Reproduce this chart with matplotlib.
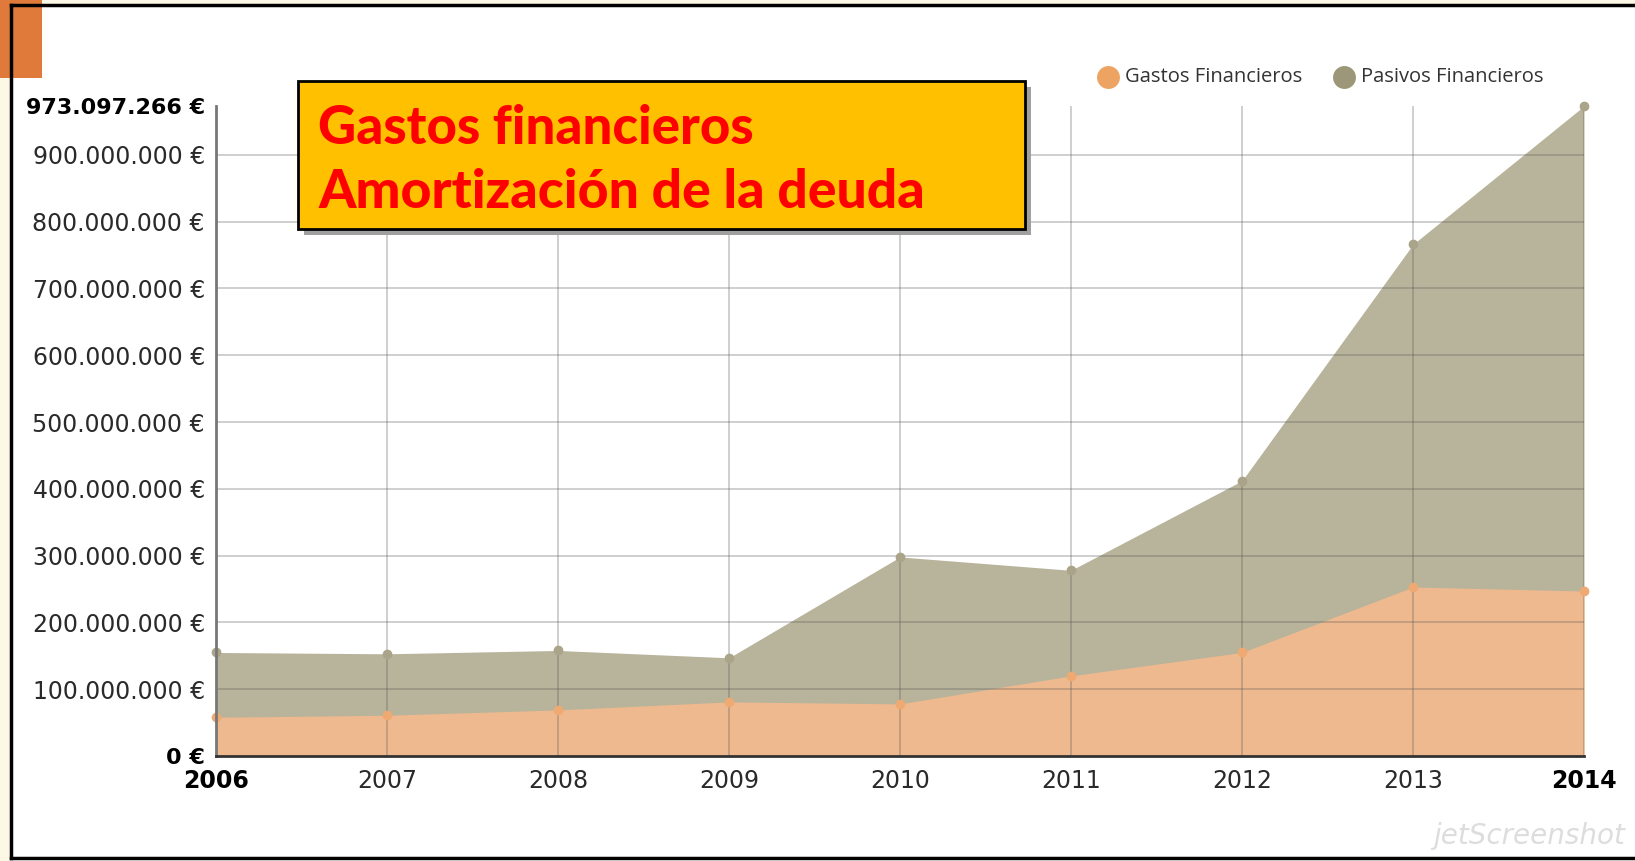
import matplotlib
matplotlib.use("Agg")
import matplotlib.pyplot as plt
from matplotlib.patches import Rectangle
from matplotlib.lines import Line2D

years = [2006, 2007, 2008, 2009, 2010, 2011, 2012, 2013, 2014]
pasivos = [155e6, 153e6, 158e6, 147e6, 298e6, 278e6, 412e6, 766e6, 973097266]
gastos = [58e6, 61e6, 69e6, 81e6, 78e6, 120e6, 155e6, 253e6, 247e6]
ytick_vals = [0, 100e6, 200e6, 300e6, 400e6, 500e6, 600e6, 700e6, 800e6, 900e6, 973097266]
ytick_labels = ["0 €", "100.000.000 €", "200.000.000 €", "300.000.000 €", "400.000.000 €",
                "500.000.000 €", "600.000.000 €", "700.000.000 €", "800.000.000 €",
                "900.000.000 €", "973.097.266 €"]
series_names = ["Gastos Financieros", "Pasivos Financieros"]
title_lines = ["Gastos financieros", "Amortización de la deuda"]

W, H = 1635, 861
fig = plt.figure(figsize=(W / 100, H / 100), dpi=100)
fig.patch.set_facecolor("white")

def fx(px):
    return px / W

def fy(py):
    return 1 - py / H

# outer frame decoration
fig.patches.append(Rectangle((0, fy(6)), 1, 6 / H, transform=fig.transFigure,
                             facecolor="#fdf8e6", edgecolor="none", zorder=0))
fig.patches.append(Rectangle((0, 0), fx(10), 1, transform=fig.transFigure,
                             facecolor="#fdf8e6", edgecolor="none", zorder=0))
fig.patches.append(Rectangle((0, fy(78)), fx(42), 78 / H, transform=fig.transFigure,
                             facecolor="#e07a3a", edgecolor="none", zorder=1))
fig.lines.append(Line2D([fx(11), 1], [fy(5), fy(5)], transform=fig.transFigure,
                        color="black", lw=2.5, zorder=3))
fig.lines.append(Line2D([fx(11), fx(11)], [fy(5), fy(858)], transform=fig.transFigure,
                        color="black", lw=2.5, zorder=3))
fig.lines.append(Line2D([fx(11), 1], [fy(858), fy(858)], transform=fig.transFigure,
                        color="black", lw=2.5, zorder=3))

x0, x1 = 216, 1584
ytop, ybot = 106, 756
ax = fig.add_axes([fx(x0), fy(ybot), fx(x1) - fx(x0), (ybot - ytop) / H])
ax.set_facecolor("white")

ymax = ytick_vals[-1]
ax.set_xlim(years[0], years[-1])
ax.set_ylim(0, ymax)

gray_fill = "#b8b39b"
orange_fill = "#eeb98e"
ax.fill_between(years, 0, pasivos, color=gray_fill, lw=0, zorder=1)
ax.fill_between(years, 0, gastos, color=orange_fill, lw=0, zorder=2)
ax.plot(years, pasivos, "o", color="#aaa58a", ms=6, zorder=4, clip_on=False)
ax.plot(years, gastos, "o", color="#eeaa72", ms=6, zorder=4, clip_on=False)

# gridlines
for v in ytick_vals[1:-1]:
    ax.axhline(v, color="#555555", lw=1.2, alpha=0.33, zorder=3)
for yv in years[1:]:
    ax.axvline(yv, color="#555555", lw=1.2, alpha=0.33, zorder=3)

for s in ["top", "right"]:
    ax.spines[s].set_visible(False)
ax.spines["left"].set_color("#777777")
ax.spines["left"].set_linewidth(2)
ax.spines["bottom"].set_color("#333333")
ax.spines["bottom"].set_linewidth(2)
ax.spines["left"].set_zorder(5)
ax.spines["bottom"].set_zorder(5)

ax.set_yticks(ytick_vals)
ax.set_yticklabels(ytick_labels)
ax.set_xticks(years)
ax.set_xticklabels([str(y) for y in years])
ax.tick_params(axis="both", length=0, labelsize=17, colors="#2a2a2a")
ax.tick_params(axis="y", pad=8)
ax.tick_params(axis="x", pad=9)
for lbl in ax.get_yticklabels() + ax.get_xticklabels():
    lbl.set_family("DejaVu Sans")
    lbl.set_color("#2a2a2a")
for i in (0, -1):
    ylbl = ax.get_yticklabels()[i]
    ylbl.set_fontweight("bold")
    ylbl.set_color("black")
    ylbl.set_fontsize(16)
    xlbl = ax.get_xticklabels()[i]
    xlbl.set_fontweight("bold")
    xlbl.set_color("black")

# legend
for cx, col, name in [(1108, "#eda463", series_names[0]), (1344, "#9c9779", series_names[1])]:
    fig.lines.append(Line2D([fx(cx)], [fy(77)], transform=fig.transFigure, marker="o",
                            ms=16.5, color=col, mec="none", ls="none", zorder=6))
    fig.text(fx(cx + 17), fy(77), name, ha="left", va="center", fontsize=14.5,
             family="Open Sans", color="#333333")

# title box with shadow
bx0, by0, bx1, by1 = 298, 81, 1025, 229
fig.patches.append(Rectangle((fx(bx0 + 6), fy(by1 + 6)), fx(bx1 - bx0), (by1 - by0) / H,
                             transform=fig.transFigure, facecolor="#a0a0a0",
                             edgecolor="none", hatch="....", zorder=7))
fig.patches.append(Rectangle((fx(bx0), fy(by1)), fx(bx1 - bx0), (by1 - by0) / H,
                             transform=fig.transFigure, facecolor="#ffc000",
                             edgecolor="black", lw=2, zorder=8))
fig.text(fx(318), fy(128), title_lines[0], ha="left", va="center", fontsize=38,
         fontweight="black", family="Lato", color="#ff0000", zorder=9)
fig.text(fx(318), fy(192), title_lines[1], ha="left", va="center", fontsize=38.5,
         fontweight="black", family="Lato", color="#ff0000", zorder=9)

# watermark
fig.text(fx(1625), fy(836), "jetScreenshot", ha="right", va="center", fontsize=20,
         style="italic", color="#dddddd", family="DejaVu Sans", zorder=2)

fig.savefig("out.png", dpi=100)
